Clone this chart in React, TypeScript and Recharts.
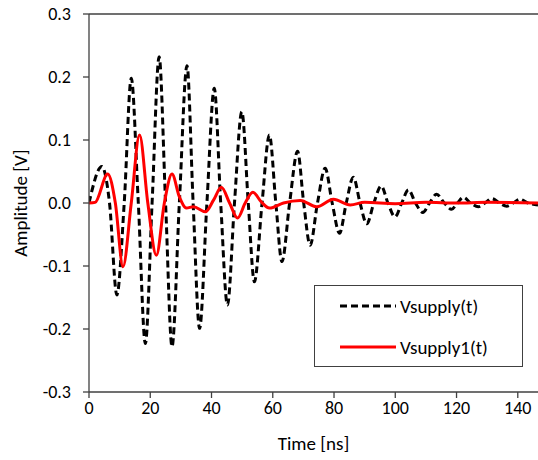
import React from "react";
import {
  LineChart,
  Line,
  XAxis,
  YAxis,
  ReferenceLine,
} from "recharts";

// Vsupply(t): peaks, troughs and zero crossings
const supplyTime = [
  0, 4.2, 6.7, 9.1, 11.5, 13.8, 16.1, 18.4, 20.6, 22.9, 25.0, 27.1, 29.5, 32.0,
  34.0, 36.1, 38.5, 40.9, 43.0, 45.2, 47.5, 49.9, 52.0, 54.0, 56.5, 58.9, 61.0,
  63.0, 65.5, 68.1, 70.1, 72.2, 74.6, 77.1, 79.4, 81.8, 84.0, 86.3, 88.5, 90.7,
  93.0, 95.4, 97.6, 99.9, 102.1, 104.3, 106.6, 109.0, 111.2, 113.5, 116.0,
  118.4, 120.3, 122.2, 124.6, 127.1, 129.3, 131.5, 134.0, 136.4, 138.5, 140.7,
  143.3, 146.6,
];
const supplyVolt = [
  0, 0.058, 0, -0.146, 0, 0.198, 0, -0.223, 0, 0.232, 0, -0.228, 0, 0.218, 0,
  -0.199, 0, 0.182, 0, -0.162, 0, 0.145, 0, -0.125, 0, 0.108, 0, -0.093, 0,
  0.082, 0, -0.067, 0, 0.055, 0, -0.048, 0, 0.041, 0, -0.033, 0, 0.027, 0,
  -0.022, 0, 0.021, 0, -0.015, 0, 0.014, 0, -0.01, 0, 0.009, 0, -0.006, 0,
  0.007, 0, -0.005, 0, 0.006, 0, -0.003,
];

// Vsupply1(t)
const supply1Time = [
  0, 2.0, 6.1, 8.6, 11.1, 13.8, 16.5, 19.2, 22.0, 24.6, 27.1, 29.5, 31.8, 34.1,
  38.0, 40.7, 43.2, 45.9, 48.5, 51.0, 53.5, 56.2, 58.9, 63.5, 69.0, 74.4, 79.8,
  85.3, 90, 100, 110, 120, 130, 146.6,
];
const supply1Volt = [
  0, 0.001, 0.046, 0, -0.101, 0, 0.108, 0, -0.083, 0, 0.046, 0.01, -0.008,
  -0.006, -0.014, 0.005, 0.025, 0, -0.024, 0, 0.017, 0.002, -0.008, 0, 0.004,
  -0.006, 0.006, -0.003, 0.001, -0.001, 0.001, 0, 0.001, 0,
];

const xTicks = [0, 20, 40, 60, 80, 100, 120, 140];
const yTicks = [-0.3, -0.2, -0.1, 0, 0.1, 0.2, 0.3];

const supplyData = supplyTime.map((t, i) => ({ t, v: supplyVolt[i] }));
const supply1Data = supply1Time.map((t, i) => ({ t, v: supply1Volt[i] }));

const font = "Carlito, Lato, sans-serif";
const axisColor = "#404040";
const tickStyle = { fill: "#000", fontSize: 18, fontFamily: font };

const LegendBox = () => (
  <div
    style={{
      position: "absolute",
      left: 314,
      top: 285,
      width: 209,
      height: 82,
      border: "1px solid #404040",
      background: "#fff",
      fontFamily: font,
      fontSize: 19,
      color: "#000",
      boxSizing: "border-box",
    }}
  >
    <div style={{ display: "flex", alignItems: "center", height: 22, marginTop: 9 }}>
      <svg width={60} height={6} style={{ marginLeft: 25 }}>
        <line x1={0} y1={3} x2={56} y2={3} stroke="#000" strokeWidth={3} strokeDasharray="7 4" />
      </svg>
      <span>Vsupply(t)</span>
    </div>
    <div style={{ display: "flex", alignItems: "center", height: 22, marginTop: 19 }}>
      <svg width={60} height={6} style={{ marginLeft: 25 }}>
        <line x1={0} y1={3} x2={56} y2={3} stroke="#ff0000" strokeWidth={3} />
      </svg>
      <span>Vsupply1(t)</span>
    </div>
  </div>
);

export default function App() {
  return (
    <div style={{ position: "absolute", left: 0, top: 0, width: 538, height: 460, background: "#fff" }}>
      <LineChart width={538} height={460} margin={{ top: 14, right: 0, bottom: 0, left: 0 }}>
        <XAxis
          type="number"
          dataKey="t"
          domain={[0, 146.6]}
          ticks={xTicks}
          allowDataOverflow
          height={68}
          stroke={axisColor}
          strokeWidth={1.3}
          tickSize={6}
          tick={tickStyle}
          tickMargin={3}
          label={{
            value: "Time [ns]",
            position: "insideBottom",
            offset: 10,
            style: { fill: "#000", fontSize: 19, fontFamily: font },
          }}
        />
        <YAxis
          type="number"
          domain={[-0.3, 0.3]}
          ticks={yTicks}
          width={89}
          stroke={axisColor}
          strokeWidth={1.3}
          tickSize={6}
          tickMargin={12}
          tick={tickStyle}
          tickFormatter={(v: number) => v.toFixed(1)}
          label={{
            value: "Amplitude [V]",
            angle: -90,
            position: "insideLeft",
            offset: 20,
            style: { fill: "#000", fontSize: 19, fontFamily: font, textAnchor: "middle" },
          }}
        />
        <ReferenceLine y={0.3} stroke={axisColor} strokeWidth={1.3} />
        <Line
          data={supplyData}
          dataKey="v"
          type="monotone"
          stroke="#000"
          strokeWidth={3}
          strokeDasharray="7 4"
          dot={false}
          isAnimationActive={false}
          name="Vsupply(t)"
        />
        <Line
          data={supply1Data}
          dataKey="v"
          type="monotone"
          stroke="#ff0000"
          strokeWidth={3}
          dot={false}
          isAnimationActive={false}
          name="Vsupply1(t)"
        />
      </LineChart>
      <LegendBox />
    </div>
  );
}
